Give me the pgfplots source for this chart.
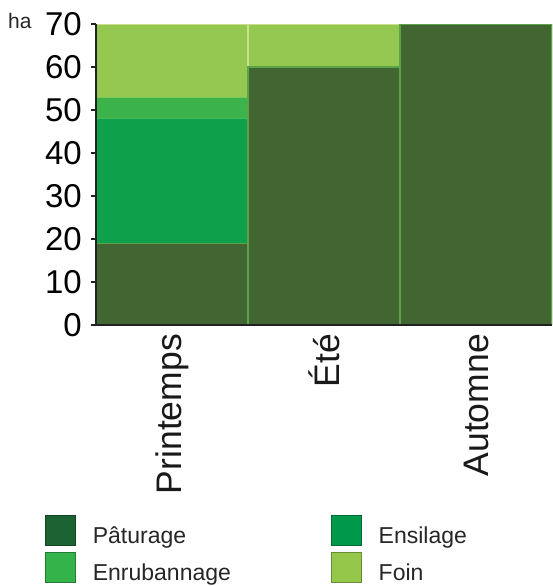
\documentclass[border=0pt]{standalone}
\usepackage{pgfplots}
\pgfplotsset{compat=1.18}
\usepackage{fontspec}
\setmainfont{Liberation Sans}
\definecolor{pastC}{HTML}{426632}
\definecolor{pastE}{HTML}{5DA448}
\definecolor{pastL}{HTML}{1B6333}
\definecolor{ensC}{HTML}{0EA04A}
\definecolor{ensE}{HTML}{45B860}
\definecolor{ensL}{HTML}{00994C}
\definecolor{enrC}{HTML}{3BB34A}
\definecolor{enrE}{HTML}{7CC95E}
\definecolor{enrL}{HTML}{33B34A}
\definecolor{foinC}{HTML}{95C850}
\definecolor{foinE}{HTML}{C9E08C}
\definecolor{foinL}{HTML}{95C84A}
\definecolor{axisc}{HTML}{222222}
\begin{document}
\begin{tikzpicture}[x=1pt,y=1pt]
\useasboundingbox (0,0) rectangle (552,586);
\begin{axis}[
  at={(96pt,261pt)}, anchor=south west,
  scale only axis, width=456pt, height=301pt,
  xmin=-0.5, xmax=2.5, ymin=0, ymax=70,
  ybar stacked, bar width=1,
  axis on top,
  /pgf/number format/assume math mode=true,
  axis x line*=bottom, axis y line*=left,
  axis line style={color=axisc, line width=1.3pt},
  xtick={0,1,2}, xticklabels={Printemps,Été,Automne},
  x tick label style={rotate=90, anchor=east, inner sep=0pt, xshift=-4pt, font=\fontsize{35.5}{42}\selectfont, text=black!90},
  xtick style={draw=none},
  ytick={0,10,20,30,40,50,60,70},
  tick align=outside,
  major tick length=5pt,
  ytick style={color=axisc, line width=1.1pt},
  y tick label style={inner sep=0pt, xshift=-9pt, font=\fontsize{33}{40}\selectfont, text=black},
  ylabel={ha},
  ylabel style={rotate=-90, at={(axis description cs:0,1)}, anchor=base west, xshift=-88pt, yshift=-4pt, inner sep=0pt, font=\fontsize{21}{25}\selectfont, text=black!85},
  legend columns=2,
  legend cell align=left,
  legend style={at={(-0.1118,-0.6246)}, anchor=north west, draw=none, fill=none, inner sep=0pt, outer sep=0pt,
    font=\fontsize{23}{28}\selectfont, text=black!85, row sep=3pt,
    /tikz/every odd column/.style={column sep=17pt},
    /tikz/every even column/.style={column sep=100pt},
    nodes={inner sep=0pt, text height=30pt, text depth=4pt}},
]
\addplot[fill=pastC, draw=pastE, line width=1.2pt,
  legend image code/.code={\draw[fill=pastL, draw=pastL!70!black, line width=0.8pt] (0pt,-15pt) rectangle (30pt,15pt);}]
  coordinates {(0,19) (1,60) (2,70)};
\addlegendentry{Pâturage}
\addplot[fill=ensC, draw=ensE, line width=1.2pt,
  legend image code/.code={\draw[fill=ensL, draw=ensL!70!black, line width=0.8pt] (0pt,-15pt) rectangle (30pt,15pt);}]
  coordinates {(0,29) (1,0) (2,0)};
\addlegendentry{Ensilage}
\addplot[fill=enrC, draw=enrE, line width=1.2pt,
  legend image code/.code={\draw[fill=enrL, draw=enrL!70!black, line width=0.8pt] (0pt,-15pt) rectangle (30pt,15pt);}]
  coordinates {(0,5) (1,0) (2,0)};
\addlegendentry{Enrubannage}
\addplot[fill=foinC, draw=foinE, line width=1.2pt,
  legend image code/.code={\draw[fill=foinL, draw=foinL!70!black, line width=0.8pt] (0pt,-15pt) rectangle (30pt,15pt);}]
  coordinates {(0,17) (1,10) (2,0)};
\addlegendentry{Foin}
\end{axis}
\end{tikzpicture}
\end{document}
